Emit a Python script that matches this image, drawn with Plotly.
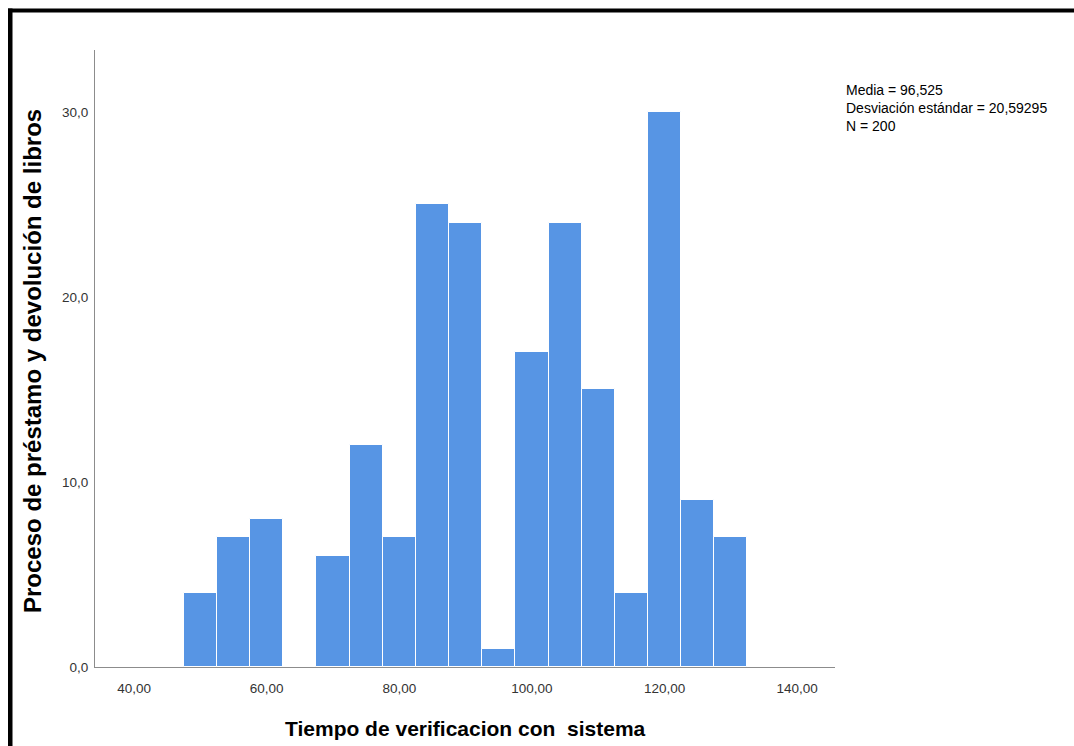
import plotly.graph_objects as go

# Data (bin width 5)
bin_centers = [50, 55, 60, 65, 70, 75, 80, 85, 90, 95, 100, 105, 110, 115, 120, 125, 130]
counts = [4, 7, 8, 0, 6, 12, 7, 25, 24, 1, 17, 24, 15, 4, 30, 9, 7]
bin_width = 5
x_tick_vals = [40, 60, 80, 100, 120, 140]
x_tick_text = ["40,00", "60,00", "80,00", "100,00", "120,00", "140,00"]
y_tick_vals = [0, 10, 20, 30]
y_tick_text = ["0,0", "10,0", "20,0", "30,0"]
stats_lines = ["Media = 96,525", "Desviación estándar = 20,59295", "N = 200"]
x_title = "Tiempo de verificacion con\u00a0 sistema"
y_title = "Proceso de préstamo y devolución de libros"

W, H = 1074, 746
L, R, T, B = 95, 239, 50, 79
pw, ph = W - L - R, H - T - B

def px(x):
    return (x - L) / pw

def py(y):
    return (H - B - y) / ph

fig = go.Figure()
fig.add_trace(go.Bar(
    x=bin_centers, y=counts, width=bin_width,
    marker=dict(color="#5795E4", line=dict(color="white", width=1)),
    hoverinfo="x+y",
))

font_family = "Liberation Sans, Arial, sans-serif"
fig.update_layout(
    width=W, height=H,
    margin=dict(l=L, r=R, t=T, b=B),
    paper_bgcolor="white", plot_bgcolor="white",
    showlegend=False, bargap=0,
    font=dict(family=font_family, size=13, color="#333333"),
    xaxis=dict(range=[34.1, 145.7], tickvals=x_tick_vals, ticktext=x_tick_text,
               showgrid=False, zeroline=False, showline=True, linecolor="#8c8c8c",
               linewidth=1, ticks="outside", ticklen=9, tickcolor="rgba(0,0,0,0)",
               tickfont=dict(size=13.5, color="#333333")),
    yaxis=dict(range=[0, 33.35], tickvals=y_tick_vals, ticktext=y_tick_text,
               showgrid=False, zeroline=False, showline=True, linecolor="#8c8c8c",
               linewidth=1, ticks="outside", ticklen=3, tickcolor="rgba(0,0,0,0)",
               tickfont=dict(size=13.5, color="#333333")),
)

# Axis titles
fig.add_annotation(text=x_title, xref="paper", yref="paper", x=px(465), y=py(728),
                   showarrow=False, xanchor="center", yanchor="middle",
                   font=dict(family=font_family, size=21, color="black", weight="bold"))
fig.add_annotation(text=y_title, xref="paper", yref="paper", x=px(33), y=py(361),
                   showarrow=False, xanchor="center", yanchor="middle", textangle=-90,
                   font=dict(family=font_family, size=24, color="black", weight="bold"))

# Statistics text
fig.add_annotation(text="<br>".join(stats_lines), xref="paper", yref="paper",
                   x=px(844), y=py(80), showarrow=False, xanchor="left", yanchor="top",
                   align="left",
                   font=dict(family=font_family, size=14, color="black"))

# Black frame (top and left edges)
fig.add_shape(type="rect", xref="paper", yref="paper",
              x0=px(8), x1=px(1074), y0=py(12.5), y1=py(8.5),
              fillcolor="black", line=dict(width=0), layer="above")
fig.add_shape(type="rect", xref="paper", yref="paper",
              x0=px(8), x1=px(12.5), y0=py(746), y1=py(8.5),
              fillcolor="black", line=dict(width=0), layer="above")

fig.write_html("out.html", config={"displayModeBar": False},
               post_script="document.body.style.margin='0';document.body.style.overflow='hidden';")
